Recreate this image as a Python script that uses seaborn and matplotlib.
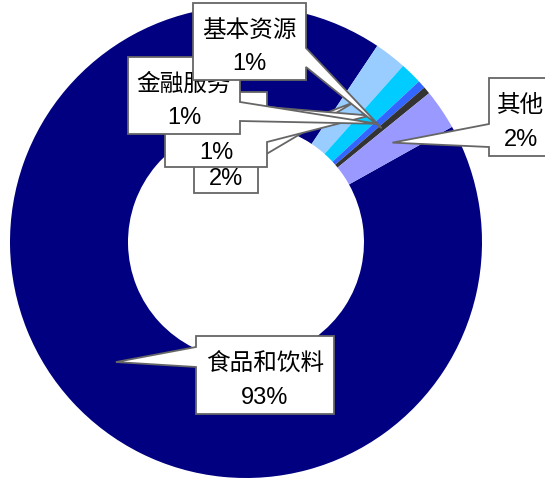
import numpy as np
import matplotlib
matplotlib.use('Agg')
import matplotlib.pyplot as plt
from matplotlib.patches import Polygon
import seaborn as sns

sns.set_theme(style="white")
plt.rcParams['font.family'] = ['Liberation Sans', 'Noto Sans CJK SC', 'DejaVu Sans']

# slice data, clockwise from the start of the big slice
sectors = ["食品和饮料", "", "", "金融服务", "基本资源", "其他"]
shares = [92.5, 2.2, 1.5, 0.55, 0.5, 2.75]
pct_text = ["93%", "2%", "1%", "1%", "1%", "2%"]
colors = ["#000080", "#99CCFF", "#00CCFF", "#3366FF", "#333333", "#9999FF"]

W, H = 545, 481
fig = plt.figure(figsize=(W / 100, H / 100), dpi=100)
ax = fig.add_axes([0, 0, 1, 1])

cx, cy, R, ring = 246, H - 243, 236, 118
wedges, _ = ax.pie(shares, colors=colors, startangle=29.2, counterclock=False,
                   center=(cx, cy), radius=R,
                   wedgeprops=dict(width=ring, linewidth=0))
ax.set_xlim(0, W)
ax.set_ylim(0, H)
ax.set_aspect('equal')
ax.axis('off')

# label layout in pixel coords (y from top): box, side of pointer, pointer base
layout = [
    dict(box=(196, 337, 334, 415), side='left', base=(348, 368), z=10),
    dict(box=(194, 117, 258, 194), side='right', base=(140, 160), z=5),
    dict(box=(165, 93, 267, 168), side='right', base=(108, 143), z=6),
    dict(box=(128, 58, 240, 135), side='right', base=(103, 122), z=7),
    dict(box=(193, 4, 306, 81), side='right', base=(49, 68), z=8),
    dict(box=(489, 79, 553, 157), side='left', base=(125, 148), z=9),
]

fs = 17
rm = R - ring / 2
for w, name, pct, lay in zip(wedges, sectors, pct_text, layout):
    mid = np.deg2rad((w.theta1 + w.theta2) / 2)
    tx, ty = cx + rm * np.cos(mid), cy + rm * np.sin(mid)
    x0, y0, x1, y1 = lay['box']
    b0, b1 = lay['base']
    if lay['side'] == 'left':
        pts = [(x0, y0), (x1, y0), (x1, y1), (x0, y1), (x0, b1), None, (x0, b0)]
    else:
        pts = [(x0, y0), (x1, y0), (x1, b0), None, (x1, b1), (x1, y1), (x0, y1)]
    verts = [(tx, ty) if p is None else (p[0], H - p[1]) for p in pts]
    ax.add_patch(Polygon(verts, closed=True, facecolor='white', edgecolor='#666666',
                         linewidth=1.3, joinstyle='miter', zorder=lay['z']))
    xc = (x0 + x1) / 2
    yc = (y0 + y1) / 2
    if name:
        ax.text(xc, H - (yc - 12), name, ha='center', va='center',
                fontsize=fs, color='black', zorder=lay['z'] + 0.5)
        ax.text(xc, H - (yc + 22), pct, ha='center', va='center',
                fontsize=fs, color='black', zorder=lay['z'] + 0.5)
    else:
        ax.text(xc, H - (y1 - 15), pct, ha='center', va='center',
                fontsize=fs, color='black', zorder=lay['z'] + 0.5)

fig.savefig('out.png', dpi=100, facecolor='white')
